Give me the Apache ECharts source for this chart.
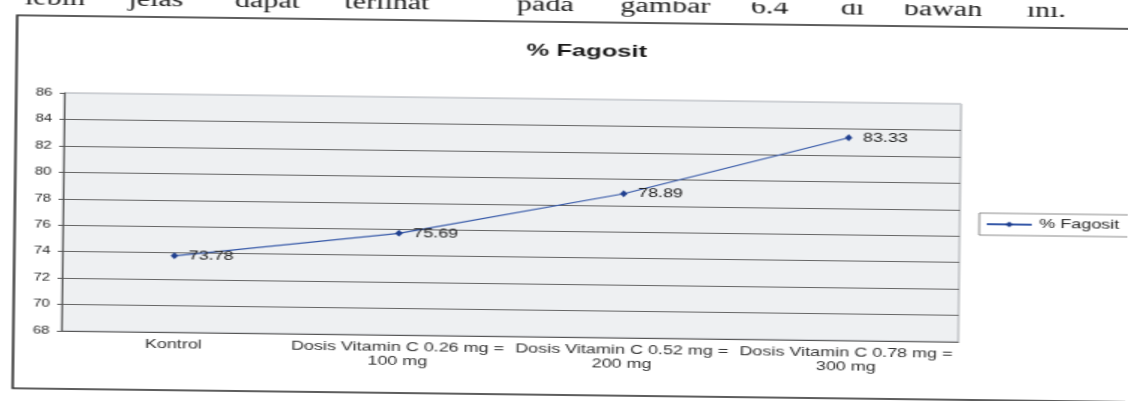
<!DOCTYPE html>
<html>
<head>
<meta charset="utf-8">
<script src="https://cdn.jsdelivr.net/npm/echarts@6/dist/echarts.min.js"></script>
<style>
  html, body { margin: 0; padding: 0; background: #ffffff; overflow: hidden; }
  #wrap { position: absolute; left: 0; top: 0; width: 1128px; height: 401px;
          transform-origin: 564px 200px; transform: rotate(0.7deg); }
  #chart { position: absolute; left: 0; top: 0; width: 752px; height: 401px;
           transform-origin: 0 0; transform: scaleX(1.5); }
</style>
</head>
<body>
<div id="wrap"><div id="chart"></div></div>
<script>
// ---- data ----
const categories = [
  'Kontrol',
  'Dosis Vitamin C 0.26 mg = 100 mg',
  'Dosis Vitamin C 0.52 mg = 200 mg',
  'Dosis Vitamin C 0.78 mg = 300 mg'
];
const fagositValues = [73.78, 75.69, 78.89, 83.33];
const seriesName = '% Fagosit';
const chartTitle = '% Fagosit';
const yTicks = { min: 68, max: 86, interval: 2 };
const pageWords = ['lebih', 'jelas', 'dapat', 'terlihat', 'pada', 'gambar', '6.4', 'di', 'bawah', 'ini.'];

// ---- layout of the scanned page text (positions only) ----
const wordX = [15, 84, 155, 228, 343, 412, 499, 559, 601, 683];

const chart = echarts.init(document.getElementById('chart'), null, { renderer: 'canvas' });

const graphics = pageWords.map((w, i) => ({
  type: 'text',
  x: wordX[i],
  y: 16,
  silent: true,
  style: { text: w, font: '20px "Liberation Serif", "DejaVu Serif", serif', fill: '#1a1a1a', verticalAlign: 'bottom' }
}));
graphics.push({
  type: 'rect',
  silent: true,
  shape: { x: 10, y: 22, width: 800, height: 373 },
  style: { fill: 'none', stroke: '#2a2a2a', lineWidth: 1.5 }
});

const gridColors = ['#666', '#666', '#666', '#666', '#666', '#666', '#666', '#666', '#666', '#c9cdd2'];

chart.setOption({
  animation: false,
  backgroundColor: '#ffffff',
  title: {
    text: chartTitle,
    left: 385,
    top: 38,
    textAlign: 'center',
    textStyle: { fontFamily: '"Liberation Sans", Arial, sans-serif', fontSize: 17, fontWeight: 'bold', color: '#1a1a1a' }
  },
  graphic: graphics,
  legend: {
    data: [seriesName],
    left: 653,
    top: 208,
    orient: 'vertical',
    padding: [5, 8, 5, 4],
    itemWidth: 30,
    itemHeight: 7,
    borderColor: '#8a8a8a',
    borderWidth: 1,
    textStyle: { fontFamily: '"Liberation Sans", Arial, sans-serif', fontSize: 12, color: '#222' }
  },
  grid: {
    left: 42, right: 112, top: 99, bottom: 64,
    show: true,
    backgroundColor: '#eef0f2',
    borderColor: '#a8abb0',
    borderWidth: 1,
    containLabel: false
  },
  xAxis: {
    type: 'category',
    data: categories,
    boundaryGap: true,
    axisLine: { lineStyle: { color: '#555', width: 1 } },
    axisTick: { show: false },
    axisLabel: {
      interval: 0,
      margin: 6,
      fontFamily: '"Liberation Sans", Arial, sans-serif',
      fontSize: 12,
      lineHeight: 14,
      color: '#333',
      formatter: v => v.replace('= ', '=\n')
    }
  },
  yAxis: {
    type: 'value',
    min: yTicks.min,
    max: yTicks.max,
    interval: yTicks.interval,
    axisLine: { show: true, lineStyle: { color: '#555', width: 1 } },
    axisTick: { show: true, length: 3, lineStyle: { color: '#555' } },
    axisLabel: {
      margin: 8,
      fontFamily: '"Liberation Sans", Arial, sans-serif',
      fontSize: 10,
      color: '#2a2a2a'
    },
    splitLine: { show: true, lineStyle: { color: gridColors, width: 1 } }
  },
  series: [{
    name: seriesName,
    type: 'line',
    data: fagositValues,
    symbol: 'diamond',
    symbolSize: [5, 7],
    itemStyle: { color: '#1f3f8f' },
    lineStyle: { color: '#3558a8', width: 1.2 },
    label: {
      show: true,
      position: 'right',
      distance: 7,
      fontFamily: '"Liberation Sans", Arial, sans-serif',
      fontSize: 12,
      color: '#222',
      formatter: p => p.value.toFixed(2)
    }
  }]
});
</script>
</body>
</html>
